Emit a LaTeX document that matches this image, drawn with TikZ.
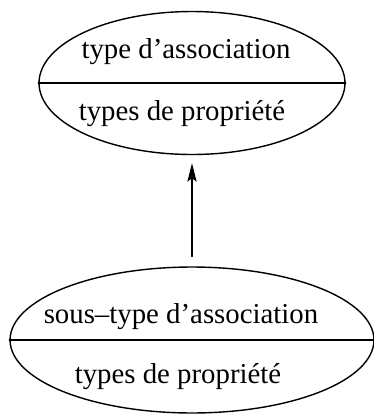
\documentclass[tikz,border=0pt]{standalone}
\usepackage{fontspec}
\setmainfont{Liberation Serif}
\usetikzlibrary{shapes.geometric, arrows.meta}
\begin{document}
\begin{tikzpicture}[x=0.02cm, y=-0.02cm, line cap=round, line join=round, >={Stealth[length=10.5pt, width=5.2pt, inset=2pt]}, font=\fontsize{16.4}{19}\selectfont]
		\tikzset{
			classe/.style={draw=black, line width=0.8pt, ellipse, inner sep=0pt},
			texte/.style={inner sep=0pt, anchor=base},
		}
		\useasboundingbox (0, 0) rectangle (374, 414);
		% type d'association
		\node[classe, minimum width=6.12cm, minimum height=2.86cm] (sup) at (192, 83) {};
		\draw[line width=0.8pt] (sup.west) -- (sup.east);
		\node[texte] (supnom) at (186, 58) {type d’association};
		\node[texte] (supprop) at (182, 120) {types de propriété};
		% sous-type d'association
		\node[classe, minimum width=7.28cm, minimum height=2.92cm] (sub) at (192, 340) {};
		\draw[line width=0.8pt] (sub.west) -- (sub.east);
		\node[texte] (subnom) at (181, 323) {sous--type d’association};
		\node[texte] (subprop) at (178, 383) {types de propriété};
		% heritage
		\draw[->, line width=1pt, shorten <=0.2cm, shorten >=0.16cm] (sub.north) -- (sup.south);
	\end{tikzpicture}
\end{document}
